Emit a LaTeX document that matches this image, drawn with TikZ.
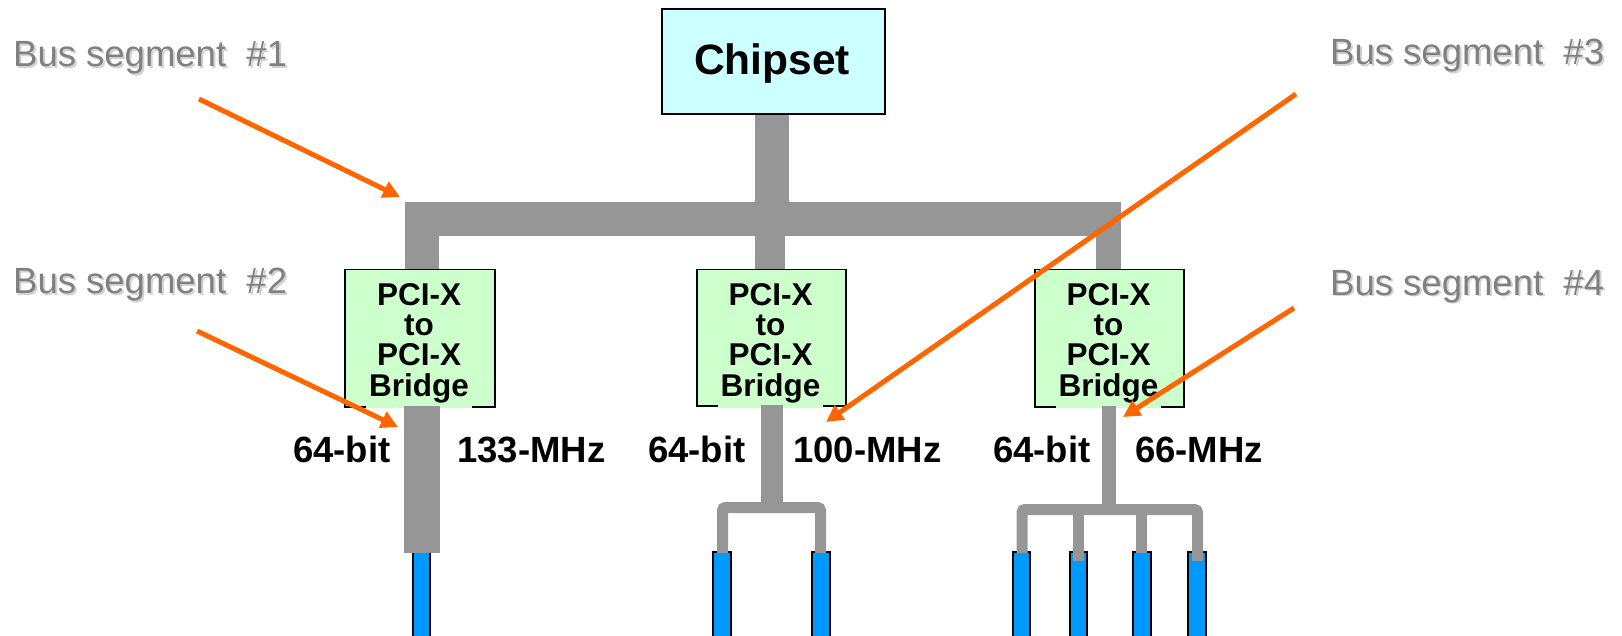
\documentclass[tikz,border=0pt]{standalone}
\usepackage{fontspec}
\setmainfont{Liberation Sans}
\usetikzlibrary{arrows.meta}
\definecolor{busgray}{RGB}{150,150,150}
\definecolor{chipcyan}{RGB}{204,255,255}
\definecolor{bridgegreen}{RGB}{204,255,204}
\definecolor{slotblue}{RGB}{0,153,255}
\definecolor{arroworange}{RGB}{255,102,0}
\definecolor{labelgray}{RGB}{128,128,128}
\definecolor{shadowgray}{RGB}{210,210,210}
\tikzset{
  bus/.style={fill=busgray},
  busline/.style={draw=busgray, rounded corners=3pt},
  slot/.style={fill=slotblue, draw=black, line width=1.5pt},
  chipbox/.style={draw=black, fill=chipcyan, line width=1.8pt},
  bridgebox/.style={draw=black, fill=bridgegreen, line width=1.5pt},
  bridgetext/.style={font=\bfseries\fontsize{31.5}{30.3}\selectfont, align=center, anchor=north, fill=bridgegreen, inner xsep=3pt, inner ysep=5pt},
  seglabel/.style={font=\fontsize{36.5}{40}\selectfont, text=labelgray, anchor=base west, inner sep=0pt},
  segshadow/.style={font=\fontsize{36.5}{40}\selectfont, text=shadowgray, anchor=base west, inner sep=0pt},
  speed/.style={font=\bfseries\fontsize{36.5}{40}\selectfont, anchor=base west, inner sep=0pt},
  pointer/.style={draw=arroworange, line width=5pt, -{Triangle[length=17pt,width=17pt]}}
}
\begin{document}
\begin{tikzpicture}[x=1pt,y=-1pt]
\useasboundingbox (0,0) rectangle (1622,636);
% main bus
\fill[bus] (755,113) rectangle (789,236);
\fill[bus] (405,202) rectangle (1121,236);
\fill[bus] (405,236) rectangle (439,270);
\fill[bus] (755,236) rectangle (785,271);
\fill[bus] (1096,236) rectangle (1121,270);
% chipset
\node[chipbox, minimum width=223pt, minimum height=105pt, anchor=north west] (chip) at (661,8) {};
\node[font=\bfseries\fontsize{42.5}{46}\selectfont, inner sep=0pt, anchor=base] (chiptext) at (772,75) {Chipset};
% bridges
\node[bridgebox, minimum width=150pt, minimum height=137pt, anchor=north west] (br1) at (344,269) {};
\node[bridgebox, minimum width=149pt, minimum height=136pt, anchor=north west] (br2) at (696,269) {};
\node[bridgebox, minimum width=149pt, minimum height=137pt, anchor=north west] (br3) at (1034,269) {};
\node[bridgetext] (br1t) at (419,278) {PCI-X\\to\\PCI-X\\Bridge};
\node[bridgetext] (br2t) at (770.5,278) {PCI-X\\to\\PCI-X\\Bridge};
\node[bridgetext] (br3t) at (1108.5,278) {PCI-X\\to\\PCI-X\\Bridge};
% slots
\draw[slot] (413,552) rectangle (430,642);
\draw[slot] (713,552) rectangle (731,642);
\draw[slot] (812,552) rectangle (830,642);
\draw[slot] (1013,552) rectangle (1030,642);
\draw[slot] (1070,552) rectangle (1087,642);
\draw[slot] (1133,552) rectangle (1151,642);
\draw[slot] (1188,552) rectangle (1206,642);
% secondary buses
\fill[bus] (404,406) rectangle (440,553);
\fill[bus] (761,405) rectangle (783,504);
\draw[busline, line width=11pt] (722.5,553) -- (722.5,507.5) -- (820.5,507.5) -- (820.5,553);
\fill[bus] (1102,406) rectangle (1116,506);
\draw[busline, line width=11pt] (1022,553) -- (1022,509.5) -- (1197.5,509.5) -- (1197.5,561);
\fill[bus] (1073,509) rectangle (1084,561);
\fill[bus] (1136,509) rectangle (1147,553);
% speed labels
\node[speed] (w1) at (293,462) {64-bit};
\node[speed] (f1) at (457,462) {133-MHz};
\node[speed] (w2) at (648,462) {64-bit};
\node[speed] (f2) at (793,462) {100-MHz};
\node[speed] (w3) at (993,462) {64-bit};
\node[speed] (f3) at (1135,462) {66-MHz};
% segment labels
\node[segshadow] (s1s) at (15,69) {Bus segment\ \ \#1};
\node[seglabel] (s1) at (13,67) {Bus segment\ \ \#1};
\node[segshadow] (s2s) at (15,296) {Bus segment\ \ \#2};
\node[seglabel] (s2) at (13,294) {Bus segment\ \ \#2};
\node[segshadow] (s3s) at (1332,67) {Bus segment\ \ \#3};
\node[seglabel] (s3) at (1330,65) {Bus segment\ \ \#3};
\node[segshadow] (s4s) at (1332,297) {Bus segment\ \ \#4};
\node[seglabel] (s4) at (1330,295) {Bus segment\ \ \#4};
% pointers
\coordinate (p1a) at (199,99);
\coordinate (p1b) at (400,197);
\coordinate (p2a) at (197,331);
\coordinate (p2b) at (398,427);
\coordinate (p3a) at (1296,94);
\coordinate (p3b) at (826,422);
\coordinate (p4a) at (1294,308);
\coordinate (p4b) at (1123,417);
\draw[pointer] (p1a) -- (p1b);
\draw[pointer] (p2a) -- (p2b);
\draw[pointer] (p3a) -- (p3b);
\draw[pointer] (p4a) -- (p4b);
\end{tikzpicture}
\end{document}
